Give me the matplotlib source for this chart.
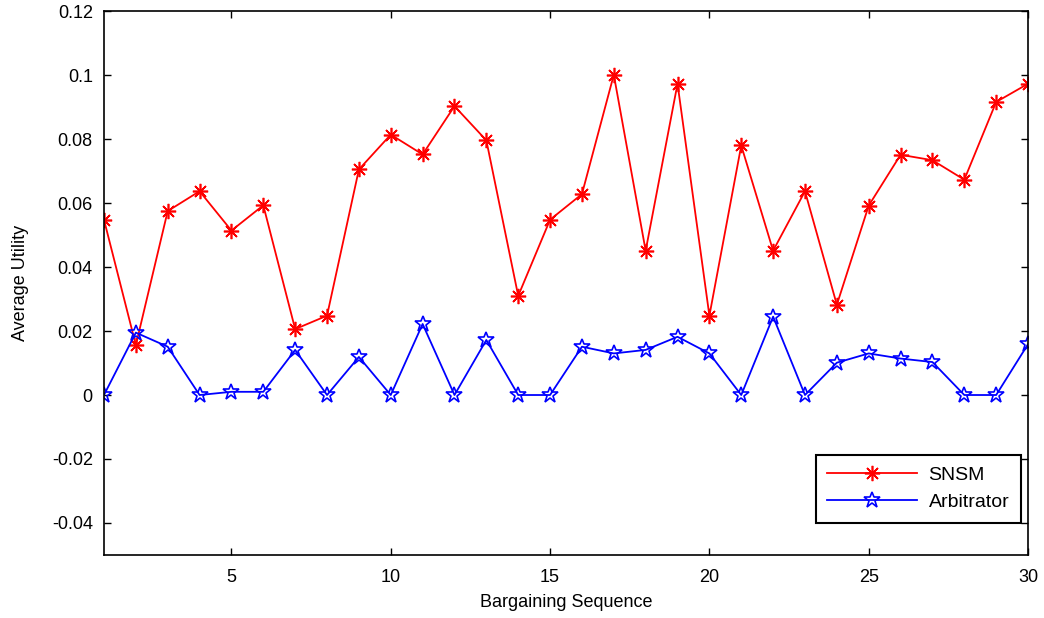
import numpy as np
import matplotlib.pyplot as plt

plt.rcParams['font.family'] = ['Liberation Sans', 'DejaVu Sans']

seq = np.arange(1, 31)
snsm = [0.0548, 0.0156, 0.0575, 0.0637, 0.0514, 0.0593, 0.0206, 0.0248, 0.0705, 0.0814,
        0.0752, 0.0903, 0.0796, 0.0310, 0.0548, 0.0628, 0.1001, 0.0451, 0.0973, 0.0248,
        0.0780, 0.0451, 0.0637, 0.0282, 0.0592, 0.0751, 0.0734, 0.0673, 0.0916, 0.0973]
arbitrator = [0.0, 0.0195, 0.0151, 0.0, 0.0010, 0.0010, 0.0141, 0.0, 0.0119, 0.0,
              0.0222, 0.0, 0.0172, 0.0, 0.0, 0.0151, 0.0130, 0.0141, 0.0182, 0.0130,
              0.0, 0.0245, 0.0, 0.0101, 0.0130, 0.0114, 0.0103, 0.0, 0.0, 0.0159]

fig = plt.figure(figsize=(10.44, 6.18), dpi=100)
ax = fig.add_axes([0.0996, 0.102, 0.8851, 0.880])

ax.plot(seq, snsm, color='red', lw=1.3, marker=(8, 2, 0), markersize=11,
        markeredgewidth=1.2, label='SNSM')
ax.plot(seq, arbitrator, color='blue', lw=1.3, marker='*', markersize=12,
        markerfacecolor='none', markeredgewidth=1.2, label='Arbitrator')

ax.set_xlim(1, 30)
ax.set_ylim(-0.05, 0.12)
ax.set_xticks([5, 10, 15, 20, 25, 30])
ax.set_yticks([-0.04, -0.02, 0, 0.02, 0.04, 0.06, 0.08, 0.1, 0.12])
ax.set_yticklabels(['-0.04', '-0.02', '0', '0.02', '0.04', '0.06', '0.08', '0.1', '0.12'])
ax.tick_params(direction='in', top=True, right=True, labelsize=13, length=5, width=1)
ax.tick_params(axis='x', pad=10)
ax.tick_params(axis='y', pad=8)
for s in ax.spines.values():
    s.set_linewidth(1.2)

ax.set_xlabel('Bargaining Sequence', fontsize=13)
ax.set_ylabel('Average Utility', fontsize=13)
ax.xaxis.set_label_coords(0.5, -0.071)
ax.yaxis.set_label_coords(-0.081, 0.5)

leg = ax.legend(loc='lower right', bbox_to_anchor=(0.9924, 0.059), borderaxespad=0,
                fontsize=14, fancybox=False, edgecolor='black', framealpha=1,
                borderpad=0.6, handlelength=4.6, labelspacing=0.5, handletextpad=0.6)
leg.get_frame().set_linewidth(1.5)

plt.savefig('out.png', dpi=100)
